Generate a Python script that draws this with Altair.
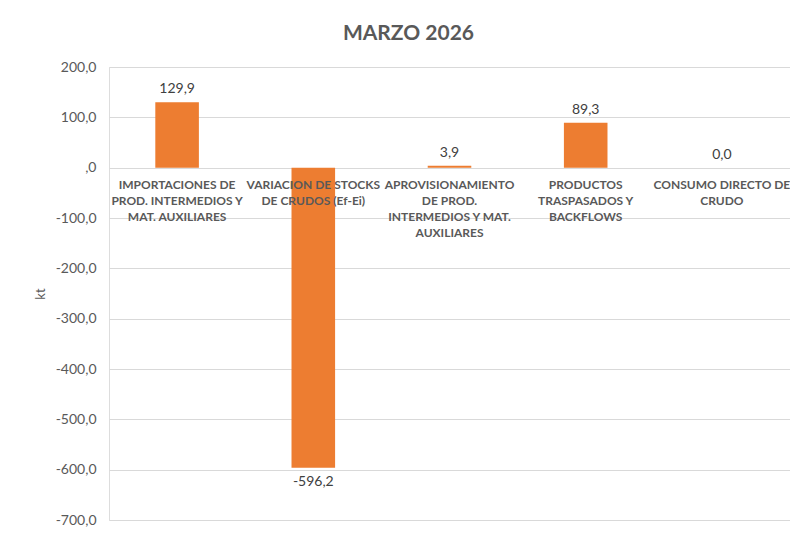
import altair as alt
import pandas as pd

categories = [
    "IMPORTACIONES DE PROD. INTERMEDIOS Y MAT. AUXILIARES",
    "VARIACION DE STOCKS DE CRUDOS (Ef-Ei)",
    "APROVISIONAMIENTO DE PROD. INTERMEDIOS Y MAT. AUXILIARES",
    "PRODUCTOS TRASPASADOS Y BACKFLOWS",
    "CONSUMO DIRECTO DE CRUDO",
]
category_lines = [
    "IMPORTACIONES DE\nPROD. INTERMEDIOS Y\nMAT. AUXILIARES",
    "VARIACION DE STOCKS\nDE CRUDOS (Ef-Ei)",
    "APROVISIONAMIENTO\nDE PROD.\nINTERMEDIOS Y MAT.\nAUXILIARES",
    "PRODUCTOS\nTRASPASADOS Y\nBACKFLOWS",
    "CONSUMO DIRECTO DE\nCRUDO",
]
values = [129.9, -596.2, 3.9, 89.3, 0.0]
y_ticks = [200, 100, 0, -100, -200, -300, -400, -500, -600, -700]

df = pd.DataFrame({
    "cat": categories,
    "lines": category_lines,
    "value": values,
    "label": [f"{v:.1f}".replace(".", ",") for v in values],
    "zero": [0.0] * len(values),
})

x = alt.X("cat:N", sort=categories, axis=None,
          scale=alt.Scale(paddingInner=0.68, paddingOuter=0.34))
yscale = alt.Scale(domain=[-700, 200], nice=False)

base = alt.Chart(df)

bars = base.mark_bar(color="#ED7D31").encode(
    x=x,
    y=alt.Y("value:Q", scale=yscale, title="kt",
            axis=alt.Axis(values=y_ticks, domain=False, ticks=False,
                          labelExpr="datum.value == 0 ? ',0' : datum.value + ',0'",
                          labelFontSize=14, labelColor="#595959", labelPadding=13,
                          labelFont="Lato",
                          gridColor="#D9D9D9", gridWidth=1,
                          titleFont="Lato", titleFontSize=13, titleColor="#595959",
                          titleFontWeight="normal", titlePadding=8)),
    y2=alt.Y2("zero:Q"),
)

pos_labels = base.transform_filter("datum.value >= 0").mark_text(
    baseline="bottom", dy=-6, fontSize=14, font="Lato", color="#404040"
).encode(x=x, y=alt.Y("value:Q", scale=yscale), text="label:N")

neg_labels = base.transform_filter("datum.value < 0").mark_text(
    baseline="top", dy=7, fontSize=14, font="Lato", color="#404040"
).encode(x=x, y=alt.Y("value:Q", scale=yscale), text="label:N")

cat_labels = base.mark_text(
    baseline="top", dy=12, fontSize=12, font="Lato", fontWeight="bold",
    color="#595959", lineBreak="\n", lineHeight=16, align="center"
).encode(x=x, y=alt.Y("zero:Q", scale=yscale), text="lines:N")

chart = alt.layer(bars, pos_labels, neg_labels, cat_labels).properties(
    width=681, height=453,
    title=alt.TitleParams("MARZO 2026", font="Lato", fontSize=21, fontWeight="bold",
                          color="#595959", offset=16, dx=-41, anchor="middle"),
    autosize=alt.AutoSizeParams(type="none"),
    padding={"left": 101, "top": 59, "right": 0, "bottom": 9},
).configure_view(stroke=None).configure(background="white")

chart.save("out.html", embed_options={"renderer": "svg", "actions": False})
